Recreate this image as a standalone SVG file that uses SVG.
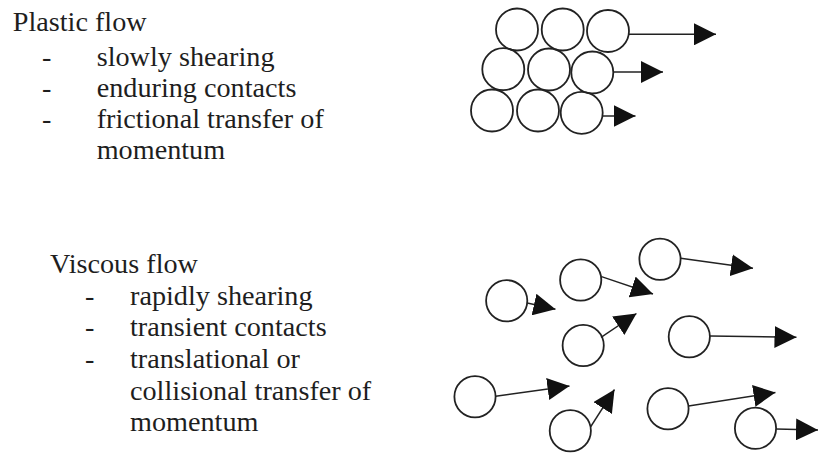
<svg xmlns="http://www.w3.org/2000/svg" width="819" height="453" viewBox="0 0 819 453">
<style>
.p{fill:none;stroke:#222;stroke-width:1.8}
.c line{stroke:#222;stroke-width:1.4}
</style>
<defs>
<marker id="ah" viewBox="0 0 22 22" refX="22" refY="11" markerWidth="22" markerHeight="22" markerUnits="userSpaceOnUse" orient="auto">
<path d="M0,0 L22,11 L0,22 Z" fill="#111"/>
</marker>
</defs>
<rect width="819" height="453" fill="#fff"/>
<g id="plastic-text" font-family="Liberation Serif" font-size="27" fill="#1e1e1e" transform="scale(1.045,1)">
<text x="12.15" y="31.5">Plastic flow</text>
<text x="40.2" y="66">-</text>
<text x="92.5" y="66">slowly shearing</text>
<text x="40.2" y="97">-</text>
<text x="92.5" y="97">enduring contacts</text>
<text x="40.2" y="128">-</text>
<text x="92.5" y="128">frictional transfer of</text>
<text x="92.5" y="159.3">momentum</text>
</g>
<g id="viscous-text" font-family="Liberation Serif" font-size="27" fill="#1e1e1e" transform="scale(1.045,1)">
<text x="47.85" y="273">Viscous flow</text>
<text x="81.3" y="305">-</text>
<text x="124.4" y="305">rapidly shearing</text>
<text x="81.3" y="336.5">-</text>
<text x="124.4" y="336.5">transient contacts</text>
<text x="81.3" y="368">-</text>
<text x="124.4" y="368">translational or</text>
<text x="124.4" y="400">collisional transfer of</text>
<text x="124.4" y="431.5">momentum</text>
</g>
<g id="plastic-particles">
<circle class="p" cx="517" cy="29.5" r="21"/>
<circle class="p" cx="562.7" cy="29.5" r="21"/>
<circle class="p" cx="608" cy="31" r="21"/>
<circle class="p" cx="503.3" cy="69.2" r="21"/>
<circle class="p" cx="549" cy="69.5" r="21"/>
<circle class="p" cx="592.3" cy="72.5" r="21"/>
<circle class="p" cx="492" cy="110.5" r="21"/>
<circle class="p" cx="538" cy="110.5" r="21"/>
<circle class="p" cx="581.7" cy="112.8" r="21"/>
</g>
<g id="viscous-particles">
<circle class="p" cx="506.7" cy="300.8" r="20.6"/>
<circle class="p" cx="580.7" cy="280" r="20.6"/>
<circle class="p" cx="660" cy="259.2" r="20.6"/>
<circle class="p" cx="583.2" cy="345.5" r="20.6"/>
<circle class="p" cx="689.3" cy="336.8" r="20.6"/>
<circle class="p" cx="475" cy="396.7" r="20.6"/>
<circle class="p" cx="570.3" cy="430.8" r="20.6"/>
<circle class="p" cx="668" cy="408.8" r="20.6"/>
<circle class="p" cx="755.5" cy="428.3" r="20.6"/>
</g>
<g id="connectors" class="c">
<line x1="629" y1="34.3" x2="716" y2="34.3" marker-end="url(#ah)"/>
<line x1="613.3" y1="72" x2="663" y2="72" marker-end="url(#ah)"/>
<line x1="602.7" y1="116" x2="635.5" y2="116" marker-end="url(#ah)"/>
<line x1="527.3" y1="303" x2="555.5" y2="309.3" marker-end="url(#ah)"/>
<line x1="601.5" y1="276.7" x2="653" y2="294" marker-end="url(#ah)"/>
<line x1="680.7" y1="258.3" x2="753" y2="268.3" marker-end="url(#ah)"/>
<line x1="601" y1="337.3" x2="636.5" y2="313.5" marker-end="url(#ah)"/>
<line x1="710" y1="336" x2="796.5" y2="337.3" marker-end="url(#ah)"/>
<line x1="495.6" y1="396.2" x2="569.5" y2="386" marker-end="url(#ah)"/>
<line x1="590.5" y1="427" x2="614.5" y2="389.5" marker-end="url(#ah)"/>
<line x1="688.5" y1="406" x2="775.5" y2="392.5" marker-end="url(#ah)"/>
<line x1="776" y1="429" x2="818" y2="430" marker-end="url(#ah)"/>
</g>
</svg>
